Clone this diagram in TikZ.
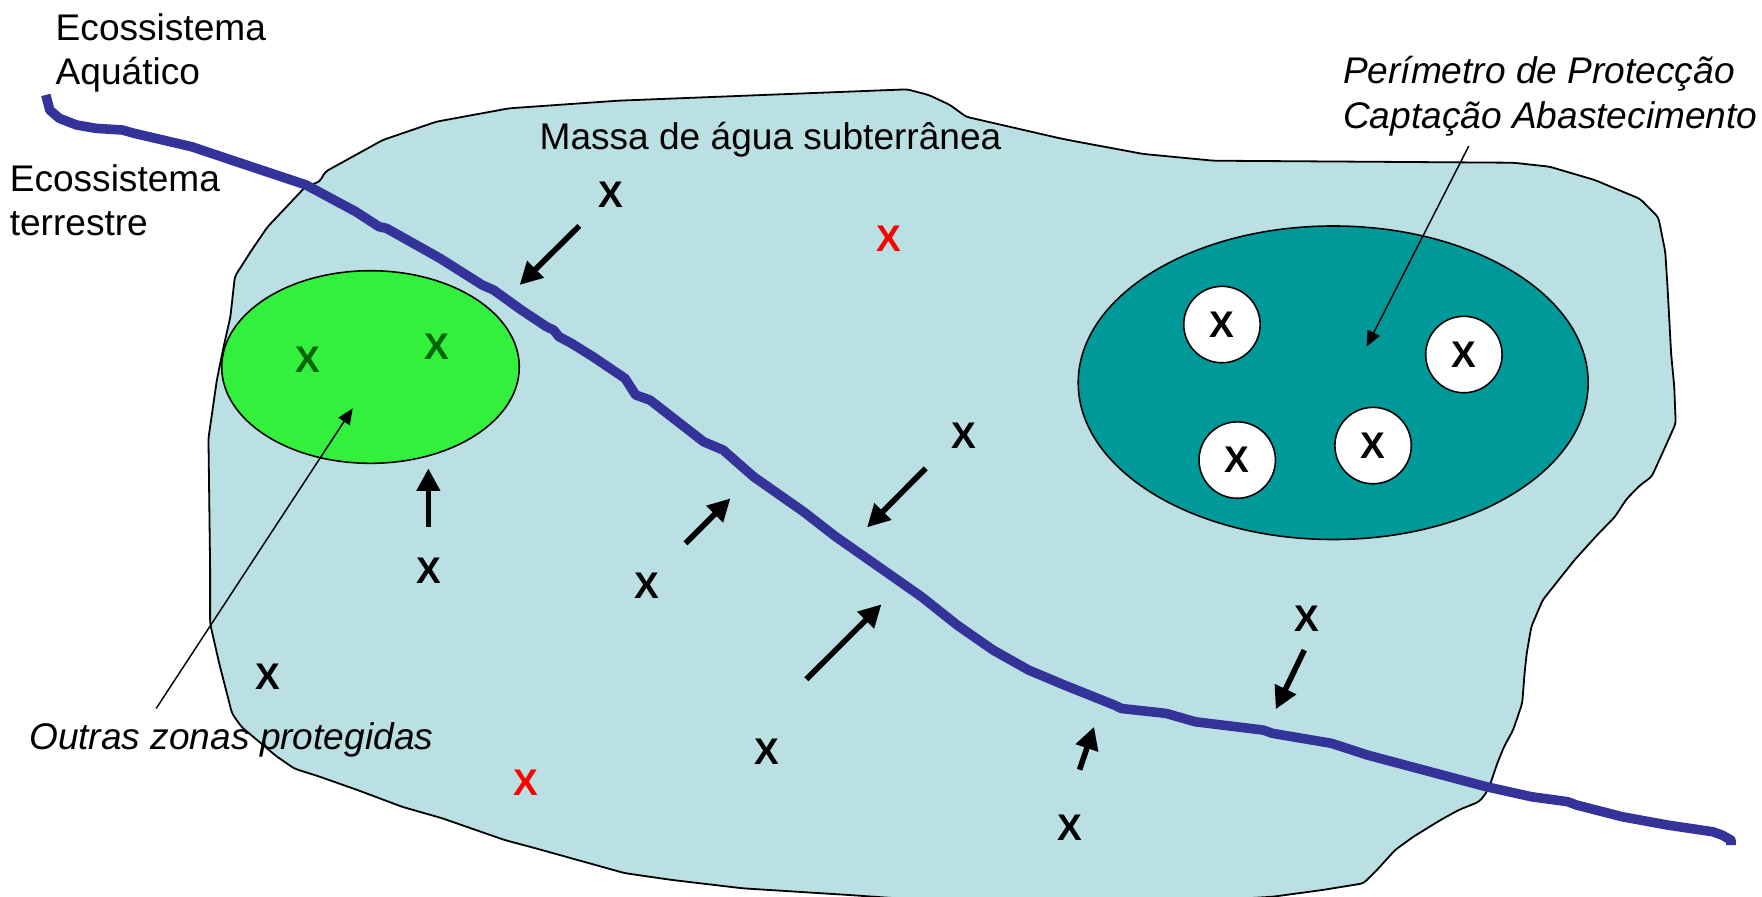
\documentclass[tikz,border=0pt]{standalone}
\usepackage{fontspec}
\setmainfont{Liberation Sans}
\usetikzlibrary{arrows.meta,shapes.geometric}

\definecolor{aquifer}{RGB}{186,224,227}
\definecolor{riverblue}{RGB}{51,51,153}
\definecolor{zonegreen}{RGB}{50,240,60}
\definecolor{darkgreen}{RGB}{0,100,0}
\definecolor{wellteal}{RGB}{0,153,153}

\begin{document}
\begin{tikzpicture}[
        x=1pt, y=-1pt,
        note/.style={font=\fontsize{33}{39.6}\selectfont, inner sep=0pt, anchor=base west, align=left},
        notei/.style={note, font=\fontsize{33}{39.6}\selectfont\itshape},
        xmark/.style={font=\fontsize{33}{39.6}\selectfont\bfseries, inner sep=0pt},
        wellnode/.style={circle, draw=black, line width=1.4pt, fill=white, minimum size=68pt, inner sep=0pt, font=\fontsize{33}{39.6}\selectfont\bfseries},
        zone/.style={ellipse, draw=black, line width=1.4pt, inner sep=0pt},
        flow/.style={draw, -{Triangle[length=20pt,width=20pt]}, line width=5pt},
        leader/.style={draw, -{Triangle[length=14pt,width=12pt]}, line width=1.3pt},
        river/.style={draw=riverblue, line width=8.5pt, line join=round}
    ]
    \useasboundingbox (0,0) rectangle (1568,798);

    % ==========================================
    % 1. Massa de agua (blob)
    % ==========================================
    \path[draw=black, line width=1.6pt, fill=aquifer, rounded corners=3pt]
        (289.5,152.8) -- (340.6,124.6) -- (388.3,108.3) -- (453,96.4) -- (549.9,89.6)
        -- (807.2,79.5) -- (826.4,84.5) -- (845.4,93.4) -- (859.7,103.9) -- (943.3,123.1)
        -- (958.6,126.1) -- (1017.3,137) -- (1079.8,143) -- (1346.5,144.8) -- (1378.8,148.3)
        -- (1419.2,160.2) -- (1459.7,177.1) -- (1475.8,193.5) -- (1481.9,224) -- (1483.9,255.1)
        -- (1487.1,314.4) -- (1489.9,344.1) -- (1491.2,376.8) -- (1480.6,400.5) -- (1469.8,424.2)
        -- (1459.7,431.6) -- (1447.5,444) -- (1437,460) -- (1421.3,476.1) -- (1401.1,498.4)
        -- (1387,516.1) -- (1372.8,534) -- (1362.7,557.7) -- (1358.6,581.4) -- (1356.7,599.2)
        -- (1354.6,625.9) -- (1346.5,649.7) -- (1338.4,664.5) -- (1332.4,679.3) -- (1326.4,697.1)
        -- (1322.3,706) -- (1316.3,713.4) -- (1298.1,720.8) -- (1281.9,729.7) -- (1257.7,744.6)
        -- (1241.5,756.4) -- (1225.3,774.2) -- (1213.2,786.1) -- (1176.8,792) -- (1132.4,798)
        -- (1050,803) -- (850,803) -- (756.4,796.5) -- (661,790.5) -- (597.5,783)
        -- (556,777) -- (477,755) -- (449,747.5) -- (393,728) -- (358,718)
        -- (318,703) -- (284,691) -- (262,684) -- (246,673) -- (215,647)
        -- (206.5,635) -- (195,590) -- (187,555) -- (187,507) -- (185.5,390)
        -- (193,338) -- (199,308.5) -- (205,282) -- (209,246) -- (224,222.5)
        -- (238,202) -- (272,166) -- (284.4,161.7) -- cycle;

    % zonas
    \node[zone, fill=zonegreen, minimum width=264.8pt, minimum height=171.4pt] (outraszona) at (329.7,326.6) {};
    \node[zone, fill=wellteal, minimum width=453.8pt, minimum height=279pt] (perimzona) at (1186.4,340.6) {};

    % captacoes
    \node[wellnode] (w1) at (1087.4,288.8) {X};
    \node[wellnode] (w2) at (1302.7,315.5) {X};
    \node[wellnode] (w3) at (1101,409.4) {X};
    \node[wellnode] (w4) at (1221.9,396.5) {X};

    % ==========================================
    % 2. Rio (ecossistema aquatico)
    % ==========================================
    \path[river] (40.8,84.5) -- (44.3,97.9) -- (52.8,105.3) -- (68.1,111.2) -- (85.2,114.2)
        -- (109,115.7) -- (119.2,118.6) -- (170.3,130.5) -- (272.4,164.6) -- (316.7,188.4)
        -- (337.2,201.7) -- (344,203.2) -- (391.6,229.9) -- (429.1,253.6) -- (439.3,258.1)
        -- (464,275.9) -- (486.3,290.7) -- (492.7,293.7) -- (497.4,299.6) -- (508.5,305.5)
        -- (527.6,317.4) -- (556.2,336.7) -- (565.7,351.5) -- (578.4,356) -- (626.1,393.1)
        -- (643.6,400.5) -- (670.6,424.2) -- (715.1,455.4) -- (743.7,477.6) -- (820,531)
        -- (851.7,556.2) -- (883.6,578.4) -- (915.4,596.3) -- (947.1,609.6) -- (991.6,627.4)
        -- (998,630.5) -- (1037.5,634.8) -- (1063.7,642.3) -- (1124.3,649.7) -- (1132.4,652.6)
        -- (1184.9,661.5) -- (1217.2,672) -- (1322.3,700) -- (1362.7,709) -- (1395,713.4)
        -- (1403,716.4) -- (1443.5,726.8) -- (1483.9,734.2) -- (1524.3,740.2) -- (1532.4,743.1)
        -- (1540.4,747.6) -- (1540.4,752);

    % ==========================================
    % 3. Pontos X e setas
    % ==========================================
    \foreach \name/\pos in {xa/{543.5,173.5}, xb/{857.5,388}, xc/{381.5,508}, xd/{575.3,521},
                            xe/{238.4,602.2}, xf/{682,669}, xg/{1162.6,550.3}, xh/{952,736.5}} {
        \node[xmark] (\name) at (\pos) {X};
    }
    \node[xmark, text=red] (xr1) at (790.8,212.1) {X};
    \node[xmark, text=red] (xr2) at (467.6,696.5) {X};
    \node[xmark, text=darkgreen] (xg1) at (274.4,319.8) {X};
    \node[xmark, text=darkgreen] (xg2) at (388.6,308.5) {X};

    \foreach \n/\a/\b in {1/{515.5,201.1}/{462.4,253.6}, 2/{381.2,468.7}/{381.2,416.8},
                          3/{610,483.5}/{650,443.5}, 4/{823.8,416.8}/{771.6,469.3},
                          5/{717.6,604.5}/{784.4,537.8}, 6/{1160.7,578.5}/{1135.3,631.2},
                          7/{960.7,685}/{973.6,646.7}} {
        \coordinate (flow\n-s) at (\a);
        \coordinate (flow\n-e) at (\b);
        \path[flow] (flow\n-s) -- (flow\n-e);
    }

    % ==========================================
    % 4. Textos (base = ultima linha)
    % ==========================================
    \node[note] (ecoaqua) at (49.4,75.6) {Ecossistema\\Aquático};
    \node[note] (ecoterr) at (8.5,210) {Ecossistema\\terrestre};
    \node[note] (massa) at (480,133) {Massa de água subterrânea};
    \node[notei] (perimetro) at (1195,114.2) {Perímetro de Protecção\\Captação Abastecimento};
    \node[notei] (outras) at (25.8,667.4) {Outras zonas protegidas};

    \coordinate (outras-foot) at (139,630.4);
    \coordinate (outras-tip) at (313.8,363.4);
    \coordinate (perim-foot) at (1307,130);
    \coordinate (perim-tip) at (1216.1,308.5);
    \path[leader] (outras-foot) -- (outras-tip);
    \path[leader] (perim-foot) -- (perim-tip);

\end{tikzpicture}
\end{document}
